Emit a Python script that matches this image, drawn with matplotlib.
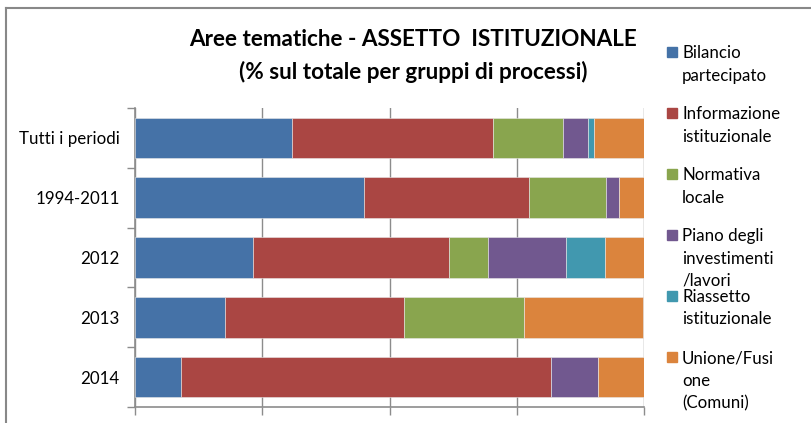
import numpy as np
import matplotlib
matplotlib.use("Agg")
import matplotlib.pyplot as plt
from matplotlib.patches import Rectangle
from matplotlib.lines import Line2D

plt.rcParams['font.family'] = ['Lato', 'DejaVu Sans']

# periodi (dall'alto verso il basso)
periodi = ["Tutti i periodi", "1994-2011", "2012", "2013", "2014"]

# % sul totale per gruppi di processi
bilancio = [30.9, 45.0, 23.1, 17.6, 9.1]
informazione = [39.5, 32.5, 38.5, 35.3, 72.7]
normativa = [13.6, 15.0, 7.7, 23.5, 0.0]
piano = [4.9, 2.5, 15.4, 0.0, 9.1]
riassetto = [1.2, 0.0, 7.7, 0.0, 0.0]
unione = [9.9, 5.0, 7.7, 23.5, 9.1]

serie = [bilancio, informazione, normativa, piano, riassetto, unione]
etichette = ["Bilancio\npartecipato", "Informazione\nistituzionale", "Normativa\nlocale",
             "Piano degli\ninvestimenti\n/lavori", "Riassetto\nistituzionale",
             "Unione/Fusi\none\n(Comuni)"]
colori = ["#4572A7", "#AA4643", "#89A54E", "#71588F", "#4198AF", "#DB843D"]

fig = plt.figure(figsize=(8.11, 4.23), dpi=100)
ax = fig.add_axes([135/811, 1 - 407/423, (644 - 135)/811, (407 - 108)/423])

y = np.arange(len(periodi))
sinistra = np.zeros(len(periodi))
for valori, col in zip(serie, colori):
    ax.barh(y, valori, left=sinistra, height=0.68, color=col,
            edgecolor="#e8e8e8", linewidth=0.4, zorder=3)
    sinistra += np.array(valori)

ax.set_xlim(0, 100)
ax.set_ylim(len(periodi) - 0.5, -0.5)
ax.set_xticks([0, 25, 50, 75, 100])
ax.set_xticklabels([])
ax.xaxis.grid(True, color="#8c8c8c", linewidth=1.0, zorder=0)
ax.set_yticks(np.arange(-0.5, len(periodi)), minor=False)
ax.set_yticklabels([])
ax.set_yticks(y, minor=True)
ax.set_yticklabels(periodi, minor=True, fontsize=12.2)
ax.tick_params(axis="y", which="minor", length=0, pad=11)
ax.tick_params(axis="y", which="major", length=6, color="#8c8c8c", width=1.0)
ax.tick_params(axis="x", length=6, color="#8c8c8c", width=1.0)
ax.spines["top"].set_visible(False)
ax.spines["right"].set_visible(False)
ax.spines["left"].set_color("#8c8c8c")
ax.spines["bottom"].set_color("#8c8c8c")
ax.spines["left"].set_linewidth(1.2)
ax.spines["bottom"].set_linewidth(1.2)

fig.text(413/811, 1 - 40/423, "Aree tematiche - ASSETTO  ISTITUZIONALE",
         ha="center", va="center", fontsize=16.2, fontweight="bold")
fig.text(413/811, 1 - 72/423, "(% sul totale per gruppi di processi)",
         ha="center", va="center", fontsize=16.2, fontweight="bold")

# legenda
for i, (lab, col) in enumerate(zip(etichette, colori)):
    ytop = 47 + i * 61
    fig.add_artist(Rectangle((667/811, 1 - (ytop + 10)/423), 10/811, 10/423,
                             transform=fig.transFigure, color=col))
    fig.text(682/811, 1 - (ytop - 2)/423, lab, ha="left", va="top",
             fontsize=12.2, linespacing=1.5)

# cornice
fig.add_artist(Line2D([6/811, 1], [1 - 8/423, 1 - 8/423], transform=fig.transFigure,
                      color="#888888", linewidth=1.5))
fig.add_artist(Line2D([6/811, 6/811], [0, 1 - 8/423], transform=fig.transFigure,
                      color="#888888", linewidth=1.5))

fig.savefig("out.png", dpi=100)
